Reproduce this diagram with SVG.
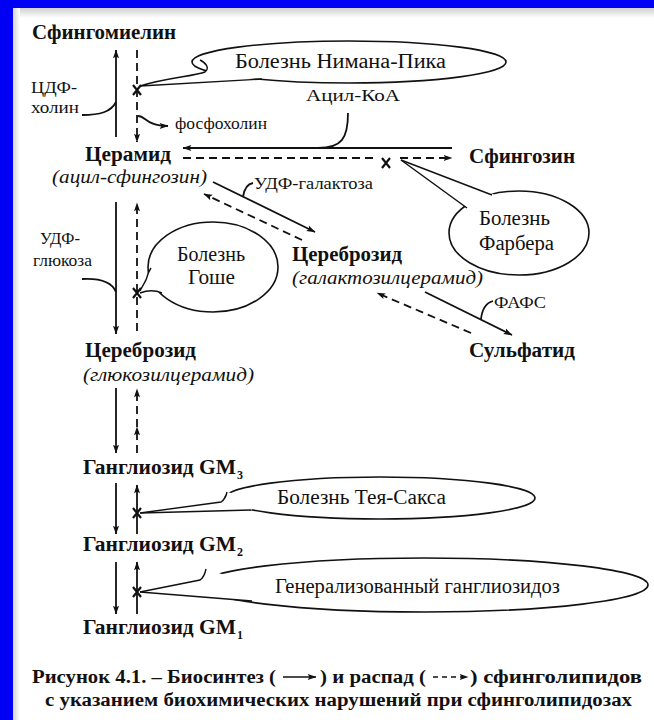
<svg xmlns="http://www.w3.org/2000/svg" width="654" height="720" viewBox="0 0 654 720">
<defs>
<marker id="ah" viewBox="0 0 10 8" refX="9.5" refY="4" markerWidth="10" markerHeight="7" orient="auto" markerUnits="userSpaceOnUse"><path d="M0,0.5 L10,4 L0,7.5 L2,4 z" fill="#111"/></marker>
<linearGradient id="gt" x1="0" y1="0" x2="0" y2="1"><stop offset="0" stop-color="#cfcfcf"/><stop offset="1" stop-color="#ffffff"/></linearGradient>
<linearGradient id="gl" x1="0" y1="0" x2="1" y2="0"><stop offset="0" stop-color="#d5d5d5"/><stop offset="1" stop-color="#ffffff"/></linearGradient>
<style>
text{font-family:"Liberation Serif","Times New Roman",serif;fill:#111}
.b{font-weight:bold;font-size:20px}
.r{font-size:17px}
.i{font-style:italic;font-size:19px}
.e{font-size:20px}
.c{font-weight:bold;font-size:18px}
.s{font-weight:bold;font-size:12px}
.ell{fill:#fff;stroke:#111;stroke-width:1.6}
.tl{fill:none;stroke:#111;stroke-width:1.4}
.tf{fill:#fff;stroke:none}
.x{stroke:#111;stroke-width:2.2;fill:none}
.d{stroke-dasharray:8 5}
</style>
</defs>
<rect x="0" y="0" width="654" height="720" fill="#0000f5"/>
<rect x="13" y="8" width="641" height="712" fill="#fff"/>
<rect x="13" y="8" width="641" height="10" fill="url(#gt)"/>
<rect x="13" y="8" width="7" height="712" fill="url(#gl)"/>

<g id="connectors" stroke="#111" stroke-width="1.8" fill="none">
<line x1="116" y1="137" x2="116" y2="50" marker-end="url(#ah)"/>
<line class="d" x1="137" y1="50" x2="137" y2="142" marker-end="url(#ah)"/>
<path d="M82 115 C100 115 111 112 116 102"/>
<path d="M138 116 C146 116 146 126 168 126" marker-end="url(#ah)"/>
<line x1="452" y1="148" x2="183" y2="148" marker-end="url(#ah)"/>
<path d="M348 113 C348 138 342 148 318 148"/>
<line class="d" x1="183" y1="158" x2="378" y2="158"/>
<line class="d" x1="400" y1="158" x2="452" y2="158" marker-end="url(#ah)"/>
<line x1="213" y1="182" x2="315" y2="232" marker-end="url(#ah)"/>
<path d="M253 183 C247 184 244 190 243 197"/>
<line class="d" x1="302" y1="240" x2="204" y2="194" marker-end="url(#ah)"/>
<line x1="116" y1="202" x2="116" y2="334" marker-end="url(#ah)"/>
<line class="d" x1="137" y1="331" x2="137" y2="203" marker-end="url(#ah)"/>
<path d="M82 279 C100 278 112 282 116 292"/>
<line x1="425" y1="292" x2="512" y2="335" marker-end="url(#ah)"/>
<path d="M493 301 C486 303 482 310 481 319"/>
<line class="d" x1="471" y1="333" x2="377" y2="293" marker-end="url(#ah)"/>
<line x1="116" y1="388" x2="116" y2="453" marker-end="url(#ah)"/>
<line class="d" x1="137" y1="453" x2="137" y2="427" marker-end="url(#ah)"/>
<line class="d" x1="137" y1="427" x2="137" y2="389" marker-end="url(#ah)"/>
<line x1="116" y1="483" x2="116" y2="534" marker-end="url(#ah)"/>
<line x1="137" y1="534" x2="137" y2="485" marker-end="url(#ah)"/>
<line x1="116" y1="562" x2="116" y2="614" marker-end="url(#ah)"/>
<line x1="137" y1="614" x2="137" y2="562" marker-end="url(#ah)"/>
</g>

<g id="blocks">
<path class="x" d="M133 85 L141 95 M141 85 L133 95"/>
<path class="x" d="M382 158 L390 168 M390 158 L382 168"/>
<path class="x" d="M133 288 L141 298 M141 288 L133 298"/>
<path class="x" d="M133 508 L141 518 M141 508 L133 518"/>
<path class="x" d="M133 587 L141 597 M141 587 L133 597"/>
</g>

<g id="n-sphingomyelin"><text class="b" x="32" y="39" textLength="144" lengthAdjust="spacingAndGlyphs">Сфингомиелин</text></g>
<g id="n-cdp"><text class="r" x="31" y="93" textLength="46" lengthAdjust="spacingAndGlyphs">ЦДФ-</text><text class="r" x="31" y="113" textLength="48" lengthAdjust="spacingAndGlyphs">холин</text></g>
<g id="n-acyl"><text class="r" x="306" y="101" textLength="94" lengthAdjust="spacingAndGlyphs">Ацил-КоА</text></g>
<g id="n-phos"><text class="r" x="175" y="129" textLength="92" lengthAdjust="spacingAndGlyphs">фосфохолин</text></g>

<g id="n-niemann">
<ellipse class="ell" cx="349" cy="62" rx="157" ry="21"/>
<path class="tf" d="M140 86 C165 78 195 76 205 72 C210 68 206 62 199 60 L230 60 L262 78 Z"/>
<path class="tl" d="M140 86 C165 78 195 76 205 72 C210 68 206 63 200 60"/>
<path class="tl" d="M140 86 L262 79"/>
<text class="e" x="235" y="68" textLength="211" lengthAdjust="spacingAndGlyphs">Болезнь Нимана-Пика</text>
</g>

<g id="n-ceramide"><text class="b" x="85" y="161" textLength="86" lengthAdjust="spacingAndGlyphs">Церамид</text><text class="i" x="52" y="183" textLength="155" lengthAdjust="spacingAndGlyphs">(ацил-сфингозин)</text></g>
<g id="n-sphingosine"><text class="b" x="469" y="163" textLength="106" lengthAdjust="spacingAndGlyphs">Сфингозин</text></g>
<g id="n-udpgal"><text class="r" x="254" y="189" textLength="119" lengthAdjust="spacingAndGlyphs">УДФ-галактоза</text></g>

<g id="n-farber">
<ellipse class="ell" cx="519" cy="233" rx="70" ry="42"/>
<path class="tf" d="M401 160 L466 207 L480 212 L500 198 L493 194 Z"/>
<path class="tl" d="M401 160 L467 208"/>
<path class="tl" d="M401 160 L492 195"/>
<text class="e" x="479" y="225" textLength="71" lengthAdjust="spacingAndGlyphs">Болезнь</text>
<text class="e" x="479" y="250" textLength="75" lengthAdjust="spacingAndGlyphs">Фарбера</text>
</g>

<g id="n-udpglc"><text class="r" x="40" y="244" textLength="40" lengthAdjust="spacingAndGlyphs">УДФ-</text><text class="r" x="33" y="266" textLength="59" lengthAdjust="spacingAndGlyphs">глюкоза</text></g>

<g id="n-gaucher">
<ellipse class="ell" cx="213" cy="267" rx="65" ry="45"/>
<path class="tf" d="M140 291 C143 285 146 280 147 276 C148 273 150 270 152 268 L160 275 L162 293 Z"/>
<path class="tl" d="M140 291 C143 285 146 281 147 277 C148 273 149 271 151 268"/>
<path class="tl" d="M140 293 C148 290 155 290 162 293"/>
<text class="e" x="177" y="261" textLength="68" lengthAdjust="spacingAndGlyphs">Болезнь</text>
<text class="e" x="188" y="284" textLength="47" lengthAdjust="spacingAndGlyphs">Гоше</text>
</g>

<g id="n-galcer"><text class="b" x="292" y="261" textLength="110" lengthAdjust="spacingAndGlyphs">Цереброзид</text><text class="i" x="292" y="284" textLength="191" lengthAdjust="spacingAndGlyphs">(галактозилцерамид)</text></g>
<g id="n-paps"><text class="r" x="494" y="308" textLength="52" lengthAdjust="spacingAndGlyphs">ФАФС</text></g>
<g id="n-sulfatide"><text class="b" x="469" y="357" textLength="106" lengthAdjust="spacingAndGlyphs">Сульфатид</text></g>
<g id="n-glccer"><text class="b" x="85" y="357" textLength="111" lengthAdjust="spacingAndGlyphs">Цереброзид</text><text class="i" x="83" y="381" textLength="171" lengthAdjust="spacingAndGlyphs">(глюкозилцерамид)</text></g>

<g id="n-gm3"><text class="b" x="83" y="474" textLength="153" lengthAdjust="spacingAndGlyphs">Ганглиозид GM</text><text class="s" x="237" y="479">3</text></g>

<g id="n-taysachs">
<ellipse class="ell" cx="380" cy="498" rx="155" ry="21"/>
<path class="tf" d="M140 513 L221 502 C224 500 226 496 227 492 L240 495 L252 510 Z"/>
<path class="tl" d="M140 513 L221 502 C224 500 226 497 227 492"/>
<path class="tl" d="M140 513 L251 510"/>
<text class="e" x="277" y="504" textLength="169" lengthAdjust="spacingAndGlyphs">Болезнь Тея-Сакса</text>
</g>

<g id="n-gm2"><text class="b" x="83" y="551" textLength="153" lengthAdjust="spacingAndGlyphs">Ганглиозид GM</text><text class="s" x="237" y="556">2</text></g>

<g id="n-gen">
<ellipse class="ell" cx="424" cy="585" rx="224" ry="27"/>
<path class="tf" d="M140 592 L200 580 C203 578 205 574 206 569 L225 575 L252 601 Z"/>
<path class="tl" d="M140 592 L200 580 C203 578 205 574 206 569"/>
<path class="tl" d="M140 592 L252 601"/>
<text class="e" x="275" y="593" textLength="285" lengthAdjust="spacingAndGlyphs">Генерализованный ганглиозидоз</text>
</g>

<g id="n-gm1"><text class="b" x="83" y="634" textLength="153" lengthAdjust="spacingAndGlyphs">Ганглиозид GM</text><text class="s" x="237" y="639">1</text></g>

<g id="caption">
<text class="c" x="32" y="683" textLength="244" lengthAdjust="spacingAndGlyphs">Рисунок 4.1. – Биосинтез (</text>
<line x1="283" y1="677" x2="316" y2="677" stroke="#111" stroke-width="1.5" marker-end="url(#ah)"/>
<text class="c" x="320" y="683" textLength="106" lengthAdjust="spacingAndGlyphs">) и распад (</text>
<line x1="433" y1="677" x2="468" y2="677" stroke="#111" stroke-width="1.5" stroke-dasharray="5 4" marker-end="url(#ah)"/>
<text class="c" x="470" y="683" textLength="172" lengthAdjust="spacingAndGlyphs">) сфинголипидов</text>
<text class="c" x="45" y="706" textLength="587" lengthAdjust="spacingAndGlyphs">с указанием биохимических нарушений при сфинголипидозах</text>
</g>
</svg>
